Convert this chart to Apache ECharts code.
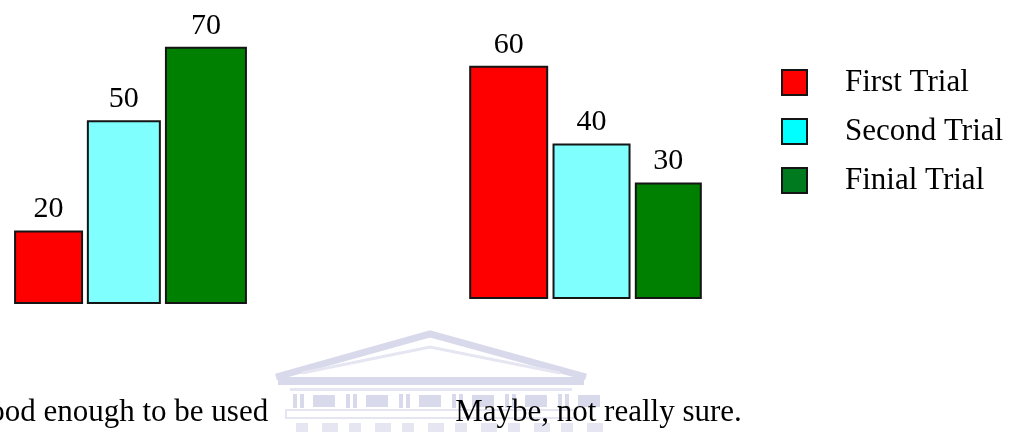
<!DOCTYPE html>
<html>
<head>
<meta charset="utf-8">
<style>
  html, body { margin: 0; padding: 0; background: #ffffff; }
  #chart { width: 1016px; height: 432px; }
</style>
<script src="https://cdn.jsdelivr.net/npm/echarts/dist/echarts.min.js"></script>
</head>
<body>
<div id="chart"></div>
<script>
// Survey answers, one value per answer group for each trial
const categories = ['Good enough to be used', 'Maybe, not really sure.'];
const seriesNames = ['First Trial', 'Second Trial', 'Finial Trial'];
const firstTrial = [20, 60];
const secondTrial = [50, 40];
const finialTrial = [70, 30];

const values = [firstTrial, secondTrial, finialTrial];

const FONT = '"Liberation Serif", "Times New Roman", serif';
const barColors = ['#ff0000', '#80ffff', '#008000'];
const legendColors = ['#ff0000', '#00ffff', '#007a1e'];

// Each answer group gets its own plot box and bar widths
const groups = [
  { left: 14,  width: 233, top: 10, bottom: 128, max: 80, barWidths: [69, 74, 82], labelPad: [0, 26, 0, 0], margin: 93 },
  { left: 469, width: 233, top: 27, bottom: 133, max: 70, barWidths: [79, 78, 67], labelPad: [0, 0, 0, 26], margin: 98 }
];

const grid = groups.map(g => ({
  left: g.left, width: g.width, top: g.top, bottom: g.bottom,
  containLabel: false,
  outerBoundsMode: 'none'
}));

const xAxis = groups.map((g, i) => ({
  type: 'category',
  gridIndex: i,
  data: [categories[i]],
  axisLine: { show: false },
  axisTick: { show: false },
  splitLine: { show: false },
  axisLabel: {
    interval: 0,
    margin: g.margin,
    fontFamily: FONT,
    fontSize: 31,
    color: '#000',
    padding: g.labelPad
  }
}));

const yAxis = groups.map((g, i) => ({
  type: 'value',
  gridIndex: i,
  min: 0,
  max: g.max,
  show: false,
  splitLine: { show: false }
}));

const series = [];
groups.forEach((g, gi) => {
  seriesNames.forEach((name, si) => {
    series.push({
      type: 'bar',
      name: name,
      xAxisIndex: gi,
      yAxisIndex: gi,
      data: [values[si][gi]],
      barWidth: g.barWidths[si],
      barGap: '5.5%',
      itemStyle: {
        color: barColors[si],
        borderColor: '#151515',
        borderWidth: 2
      },
      label: {
        show: true,
        position: 'top',
        distance: 6,
        fontFamily: FONT,
        fontSize: 30,
        color: '#000'
      },
      emphasis: { disabled: true }
    });
  });
});

// Faint building emblem in the lower middle of the page
const wm = '#d9d9ec';
const wmLight = '#e6e6f3';
const emblem = [];
emblem.push({ type: 'polyline', shape: { points: [[276, 377], [430, 334], [586, 377]] }, style: { stroke: wm, lineWidth: 7, fill: null } });
emblem.push({ type: 'polyline', shape: { points: [[302, 373], [430, 347], [560, 373]] }, style: { stroke: wmLight, lineWidth: 3, fill: null } });
emblem.push({ type: 'rect', shape: { x: 278, y: 377, width: 306, height: 8 }, style: { fill: wm } });
emblem.push({ type: 'rect', shape: { x: 290, y: 388, width: 282, height: 3 }, style: { fill: wmLight } });
for (let x = 293; x < 560; x += 53) {
  emblem.push({ type: 'rect', shape: { x: x, y: 394, width: 4, height: 14 }, style: { fill: wm } });
  emblem.push({ type: 'rect', shape: { x: x + 7, y: 394, width: 4, height: 14 }, style: { fill: wm } });
  emblem.push({ type: 'rect', shape: { x: x + 20, y: 395, width: 22, height: 12 }, style: { fill: wm } });
}
emblem.push({ type: 'rect', shape: { x: 286, y: 410, width: 290, height: 8 }, style: { fill: null, stroke: wmLight, lineWidth: 2 } });
for (let x = 296; x < 566; x += 53) {
  emblem.push({ type: 'rect', shape: { x: x, y: 423, width: 12, height: 9 }, style: { fill: wmLight } });
  emblem.push({ type: 'rect', shape: { x: x + 26, y: 423, width: 16, height: 9 }, style: { fill: wmLight } });
}

const option = {
  animation: false,
  backgroundColor: '#ffffff',
  grid: grid,
  xAxis: xAxis,
  yAxis: yAxis,
  legend: {
    orient: 'vertical',
    left: 776,
    top: 62,
    icon: 'rect',
    itemWidth: 25,
    itemHeight: 25,
    itemGap: 18,
    selectedMode: false,
    itemStyle: { borderColor: '#151515', borderWidth: 2 },
    textStyle: {
      fontFamily: FONT,
      fontSize: 31,
      lineHeight: 31,
      color: '#000',
      padding: [0, 0, 0, 33]
    },
    data: seriesNames.map((n, i) => ({ name: n, itemStyle: { color: legendColors[i] } }))
  },
  graphic: [{ type: 'group', z: -10, silent: true, children: emblem }],
  series: series
};

const chart = echarts.init(document.getElementById('chart'), null, { renderer: 'canvas' });
chart.setOption(option);
</script>
</body>
</html>
